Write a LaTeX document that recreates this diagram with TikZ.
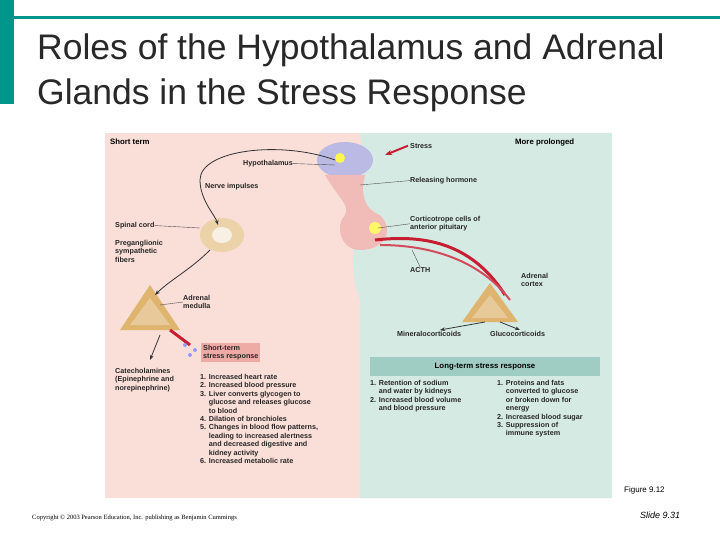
\documentclass[tikz,border=0pt]{standalone}
\usepackage{fontspec}
\setmainfont{Liberation Sans}
\newfontfamily\serifc{Liberation Serif}
\usetikzlibrary{arrows.meta}
\definecolor{teal1}{RGB}{0,150,140}
\definecolor{pinkbg}{RGB}{250,222,216}
\definecolor{tealbg}{RGB}{214,234,228}
\definecolor{pinkbox}{RGB}{238,170,165}
\definecolor{tealbox}{RGB}{160,205,195}
\definecolor{tan1}{RGB}{222,180,110}
\definecolor{red1}{RGB}{200,30,50}
\definecolor{purp}{RGB}{140,140,210}
\definecolor{titlec}{RGB}{40,40,40}
\tikzset{lab/.style={font=\fontsize{7.2}{8.4}\selectfont\bfseries, anchor=north west, inner sep=0pt, align=left, text=black!85},
hd/.style={font=\fontsize{7.8}{9}\selectfont\bfseries, anchor=north west, inner sep=0pt},
ar/.style={-{Stealth[length=5pt]}, thick, black!80},
ttl/.style={font=\fontsize{35.5}{40}\selectfont, anchor=west, inner sep=0pt}}
\begin{document}
\begin{tikzpicture}[x=1pt,y=-1pt]
\useasboundingbox (0,0) rectangle (720,540);
\fill[white] (0,0) rectangle (720,540);
\fill[teal1] (0,0) rectangle (14,104);
\fill[teal1] (14,16) rectangle (720,19);
\node[ttl, text=titlec] (t1) at (37,50) {Roles of the Hypothalamus and Adrenal};
\node[ttl, text=titlec] (t2) at (37,95) {Glands in the Stress Response};
% panel
\fill[pinkbg] (105,133) rectangle (612,498);
\fill[tealbg] (360,133) -- (612,133) -- (612,498) -- (360,498) -- (360,300) .. controls (340,250) and (370,200) .. (360,133) -- cycle;
% hypothalamus & pituitary
\fill[purp!60] (345,160) ellipse (28 and 18);
\fill[pinkbox!80] (325,175) .. controls (340,200) and (350,205) .. (345,215) .. controls (335,225) and (340,250) .. (360,250) .. controls (385,250) and (395,230) .. (380,215) .. controls (365,210) and (360,195) .. (365,175) -- cycle;
\fill[yellow!70] (340,158) circle (5);
\fill[yellow!60] (375,228) circle (6);
% spinal cord
\fill[tan1!60] (222,235) ellipse (22 and 17);
\fill[white!80!tan1] (222,235) ellipse (10 and 8);
% adrenal glands
\fill[tan1] (150,285) -- (180,330) -- (120,330) -- cycle;
\fill[tan1!70!white] (150,298) -- (170,325) -- (130,325) -- cycle;
\fill[tan1] (490,283) -- (518,322) -- (462,322) -- cycle;
\fill[tan1!70!white] (490,295) -- (508,318) -- (472,318) -- cycle;
% vessels
\draw[red1, line width=3pt] (170,330) -- (190,345);
\draw[red1, line width=3pt] (375,240) .. controls (420,235) and (470,240) .. (505,295);
\draw[red1!80, line width=2pt] (380,245) .. controls (430,245) and (480,260) .. (510,300);
\fill[blue!40] (185,345) circle (2) (195,350) circle (2) (190,355) circle (2);
% labels left
\node[hd] (st) at (110,139) {Short term};
\node[lab] (hy) at (243,160) {Hypothalamus};
\node[lab] (ni) at (205,183) {Nerve impulses};
\node[lab] (sc) at (115,222) {Spinal cord};
\node[lab] (pf) at (115,240) {Preganglionic\\sympathetic\\fibers};
\node[lab] (am) at (183,295) {Adrenal\\medulla};
\node[lab, fill=pinkbox, inner sep=2pt] (sr) at (201,343) {Short-term\\stress response};
\node[lab] (ca) at (115,368) {Catecholamines\\(Epinephrine and\\norepinephrine)};
\node[lab] (l1) at (200,374) {1. Increased heart rate\\2. Increased blood pressure\\3. Liver converts glycogen to\\\phantom{3. }glucose and releases glucose\\\phantom{3. }to blood\\4. Dilation of bronchioles\\5. Changes in blood flow patterns,\\\phantom{5. }leading to increased alertness\\\phantom{5. }and decreased digestive and\\\phantom{5. }kidney activity\\6. Increased metabolic rate};
% labels right
\node[lab] (ss) at (410,143) {Stress};
\node[hd] (mp) at (515,139) {More prolonged};
\node[lab] (rh) at (410,177) {Releasing hormone};
\node[lab] (cc) at (410,216) {Corticotrope cells of\\anterior pituitary};
\node[lab] (ac) at (410,267) {ACTH};
\node[lab] (ax) at (521,273) {Adrenal\\cortex};
\node[lab] (mi) at (397,331) {Mineralocorticoids};
\node[lab] (gl) at (490,331) {Glucocorticoids};
\fill[tealbox] (370,357) rectangle (600,376);
\node[hd, anchor=center] (lt) at (485,366.5) {Long-term stress response};
\node[lab] (r1) at (370,380) {1. Retention of sodium\\\phantom{1. }and water by kidneys\\2. Increased blood volume\\\phantom{2. }and blood pressure};
\node[lab] (r2) at (497,380) {1. Proteins and fats\\\phantom{1. }converted to glucose\\\phantom{1. }or broken down for\\\phantom{1. }energy\\2. Increased blood sugar\\3. Suppression of\\\phantom{3. }immune system};
% arrows
\coordinate (hyp) at (335,160);
\draw[red1, line width=2pt, -{Stealth[length=7pt]}] (ss.west) ++(-2,0) -- (385,155);
\draw[black!70] (rh.west) -- (360,185);
\draw[black!70] (cc.west) -- (378,228);
\draw[black!70] (hy.east) -- (335,165);
\draw[ar] (hyp) .. controls (280,140) and (200,150) .. (200,180) .. controls (200,200) and (215,215) .. (218,225);
\draw[black!70] (sc.east) -- (200,228);
\draw[ar] (210,250) .. controls (190,270) and (170,280) .. (155,295);
\draw[black!70] (am.west) -- (160,305);
\draw[ar] (160,335) -- (150,360);
\draw[ar] (485,322) -- (440,330);
\draw[ar] (500,322) -- (520,330);
\draw[black!70] (ac.north) -- (412,250);
% footer
\node[font=\fontsize{8}{9}\selectfont, anchor=west, inner sep=0pt] (fg) at (624,490) {Figure 9.12};
\node[font=\serifc\fontsize{6.5}{8}\selectfont, anchor=west, inner sep=0pt] (cp) at (32,518) {Copyright \textcopyright{} 2003 Pearson Education, Inc. publishing as Benjamin Cummings};
\node[font=\fontsize{9}{10}\selectfont\itshape, anchor=west, inner sep=0pt] (sl) at (640,515) {Slide 9.31};
\end{tikzpicture}
\end{document}
